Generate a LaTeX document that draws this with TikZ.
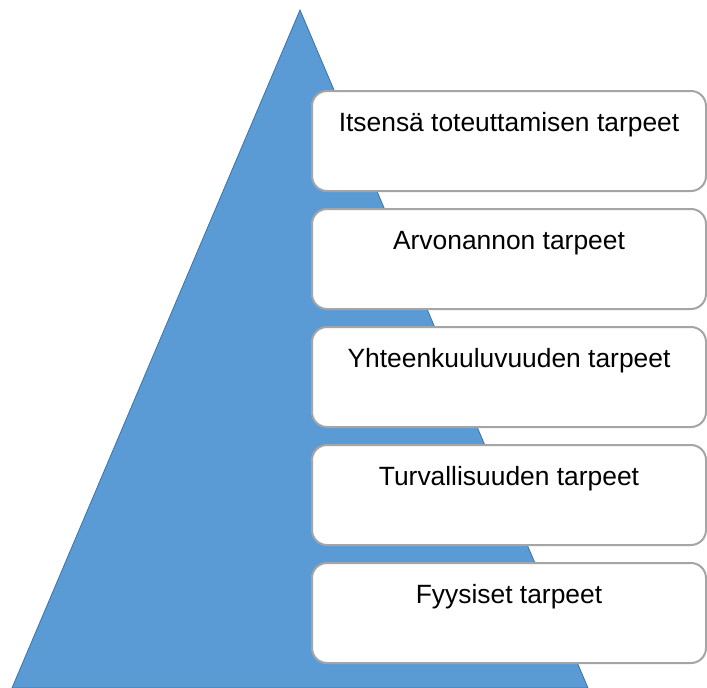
\documentclass[tikz,border=0pt]{standalone}
\usepackage{fontspec}
\setmainfont{Liberation Sans}
\definecolor{pyrblue}{HTML}{5B9BD5}
\definecolor{pyredge}{HTML}{41719C}
\definecolor{boxgray}{HTML}{A5A5A5}
\tikzset{
    needbox/.style={draw=boxgray, line width=2pt, fill=white, rounded corners=15pt,
        anchor=north west, minimum width=394pt, inner xsep=0pt, inner ysep=0pt,
        text height=40pt, text depth=60pt, align=center, font=\fontsize{26.4}{30}\selectfont}
}
\begin{document}
\begin{tikzpicture}[x=1pt, y=-1pt]
        \useasboundingbox (0,0) rectangle (707,688);
        \fill[pyrblue, draw=pyredge, line width=0.8pt] (300,10) -- (588,688) -- (12,688) -- cycle;
        \foreach \t [count=\i] in {Itsensä toteuttamisen tarpeet, Arvonannon tarpeet,
            Yhteenkuuluvuuden tarpeet, Turvallisuuden tarpeet, Fyysiset tarpeet}
            {\node[needbox] (b\i) at (311,{90+118*(\i-1)}) {\t};}
    \end{tikzpicture}
\end{document}
